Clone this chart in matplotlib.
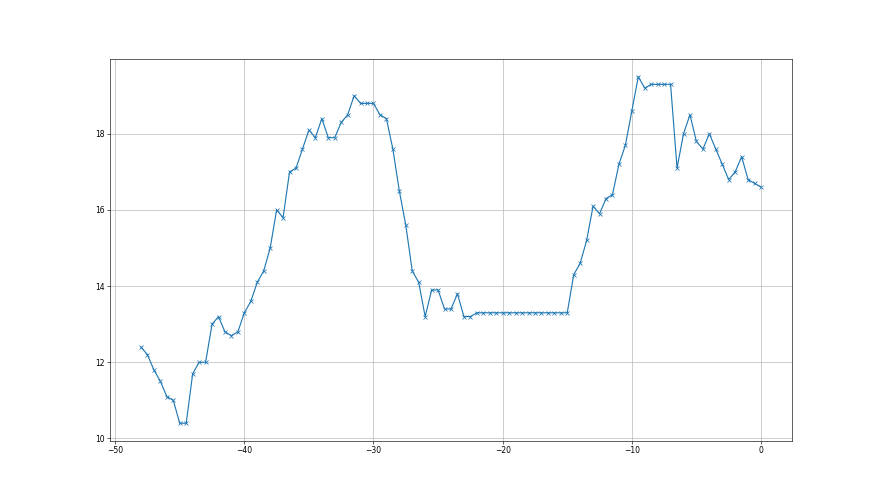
import numpy as np
import matplotlib
matplotlib.use("Agg")
import matplotlib.pyplot as plt

x_values = np.arange(-48, 0.01, 0.5)
y_values = [
    12.4, 12.2, 11.8, 11.5, 11.1, 11.0, 10.4, 10.4, 11.7, 12.0,
    12.0, 13.0, 13.2, 12.8, 12.7, 12.8, 13.3, 13.6, 14.1, 14.4,
    15.0, 16.0, 15.8, 17.0, 17.1, 17.6, 18.1, 17.9, 18.4, 17.9,
    17.9, 18.3, 18.5, 19.0, 18.8, 18.8, 18.8, 18.5, 18.4, 17.6,
    16.5, 15.6, 14.4, 14.1, 13.2, 13.9, 13.9, 13.4, 13.4, 13.8,
    13.2, 13.2, 13.3, 13.3, 13.3, 13.3, 13.3, 13.3, 13.3, 13.3,
    13.3, 13.3, 13.3, 13.3, 13.3, 13.3, 13.3, 14.3, 14.6, 15.2,
    16.1, 15.9, 16.3, 16.4, 17.2, 17.7, 18.6, 19.5, 19.2, 19.3,
    19.3, 19.3, 19.3, 17.1, 18.0, 18.5, 17.8, 17.6, 18.0, 17.6,
    17.2, 16.8, 17.0, 17.4, 16.8, 16.7, 16.6,
]

fig, ax = plt.subplots(figsize=(16, 9), dpi=55)
ax.plot(x_values, y_values, marker='x', color='C0')
ax.grid(True)
fig.savefig("out.png", dpi=55)
